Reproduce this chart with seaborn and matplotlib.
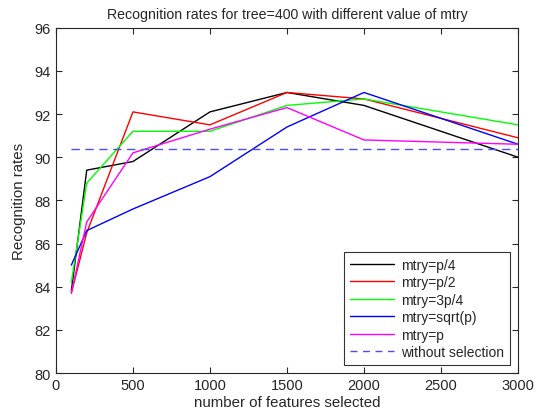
import matplotlib
matplotlib.use("Agg")
import matplotlib.pyplot as plt
import seaborn as sns
import pandas as pd
from matplotlib.lines import Line2D

features = [100, 200, 500, 1000, 1500, 2000, 3000]
mtry_p4 = [83.8, 89.4, 89.8, 92.1, 93.0, 92.4, 90.0]
mtry_p2 = [83.7, 86.5, 92.1, 91.5, 93.0, 92.7, 90.9]
mtry_3p4 = [84.2, 88.8, 91.2, 91.2, 92.4, 92.7, 91.5]
mtry_sqrt = [85.0, 86.6, 87.6, 89.1, 91.4, 93.0, 90.6]
mtry_p = [83.7, 87.0, 90.2, 91.3, 92.3, 90.8, 90.6]
baseline_x = [100, 3000]
baseline_y = [90.4, 90.4]

labels = ["mtry=p/4", "mtry=p/2", "mtry=3p/4", "mtry=sqrt(p)", "mtry=p"]
series = [mtry_p4, mtry_p2, mtry_3p4, mtry_sqrt, mtry_p]
colors = ["#000000", "#ff0000", "#00ff00", "#0000ff", "#ff00ff"]

sns.set_style("ticks")
plt.rcParams['font.family'] = ['Liberation Sans', 'DejaVu Sans']

fig = plt.figure(figsize=(5.43, 4.14), dpi=100)
ax = fig.add_axes([0.103, 0.0966, 0.851, 0.834])

rows = []
for lab, vals in zip(labels, series):
    for x, y in zip(features, vals):
        rows.append({"features": x, "rate": y, "method": lab})
df = pd.DataFrame(rows)
sns.lineplot(data=df, x="features", y="rate", hue="method", hue_order=labels,
             palette=colors, linewidth=1.0, ax=ax, legend=False)
bdf = pd.DataFrame({"features": baseline_x, "rate": baseline_y})
sns.lineplot(data=bdf, x="features", y="rate", color="#4d4dff", linewidth=1.0,
             linestyle=(0, (6, 4)), ax=ax)

handles = [Line2D([], [], color=c, lw=1.0) for c in colors]
handles.append(Line2D([], [], color="#4d4dff", lw=1.0, linestyle=(0, (5, 4))))
leg = ax.legend(handles, labels + ["without selection"], loc="lower right",
                fontsize=10, frameon=True, fancybox=False, edgecolor="black",
                handlelength=3.2, borderaxespad=0.6, labelspacing=0.25,
                handletextpad=0.5)
leg.get_frame().set_linewidth(0.8)

ax.set_xlim(0, 3000)
ax.set_ylim(80, 96)
ax.set_xticks([0, 500, 1000, 1500, 2000, 2500, 3000])
ax.set_yticks([80, 82, 84, 86, 88, 90, 92, 94, 96])
ax.tick_params(direction="in", top=True, right=True, labelsize=10.5, length=4, width=0.8)
for s in ax.spines.values():
    s.set_visible(True)
    s.set_linewidth(0.8)
ax.set_xlabel("number of features selected", fontsize=10.8, labelpad=2)
ax.set_ylabel("Recognition rates", fontsize=10.8, labelpad=6)
ax.set_title("Recognition rates for tree=400 with different value of mtry", fontsize=10.2, pad=7)

fig.savefig("out.png", dpi=100)
